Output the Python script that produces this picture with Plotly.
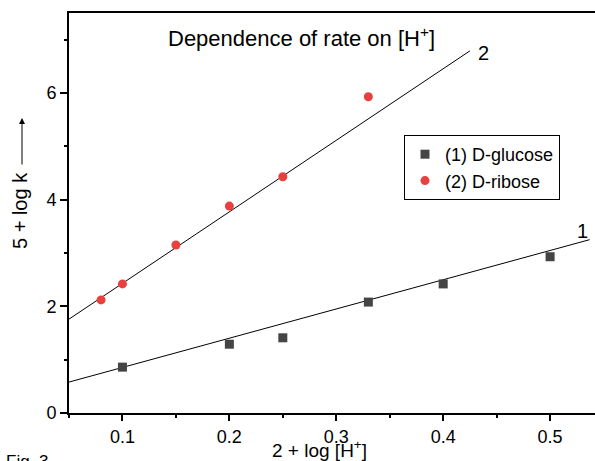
import plotly.graph_objects as go

# Data
glucose_x = [0.10, 0.20, 0.25, 0.33, 0.40, 0.50]
glucose_y = [0.86, 1.29, 1.41, 2.08, 2.42, 2.93]
ribose_x = [0.08, 0.10, 0.15, 0.20, 0.25, 0.33]
ribose_y = [2.12, 2.42, 3.15, 3.88, 4.43, 5.93]

# fitted lines (endpoints)
fit1_x = [0.05, 0.537]
fit1_y = [0.58, 3.25]
fit2_x = [0.05, 0.425]
fit2_y = [1.76, 6.79]

x_ticks = [0.1, 0.2, 0.3, 0.4, 0.5]
y_ticks = [0, 2, 4, 6]

FONT = "Liberation Sans, Arial, Helvetica, sans-serif"

L, T, B = 69, 13, 413
PW, PH = 595 - L, B - T


def px(xp):
    return (xp - L) / PW


def py(yp):
    return (B - yp) / PH


fig = go.Figure()
fig.add_trace(go.Scatter(x=fit1_x, y=fit1_y, mode="lines",
                         line=dict(color="black", width=1), showlegend=False, hoverinfo="skip"))
fig.add_trace(go.Scatter(x=fit2_x, y=fit2_y, mode="lines",
                         line=dict(color="black", width=1), showlegend=False, hoverinfo="skip"))
fig.add_trace(go.Scatter(x=glucose_x, y=glucose_y, mode="markers", name="(1) D-glucose",
                         marker=dict(symbol="square", size=9, color="#444444")))
fig.add_trace(go.Scatter(x=ribose_x, y=ribose_y, mode="markers", name="(2) D-ribose",
                         marker=dict(symbol="circle", size=9, color="#e8403f")))

fig.update_layout(
    width=595, height=461,
    margin=dict(l=L, r=0, t=T, b=461 - B, autoexpand=False),
    paper_bgcolor="white", plot_bgcolor="white",
    font=dict(family=FONT, size=18, color="black"),
    showlegend=True,
    legend=dict(x=px(404), y=py(135), xanchor="left", yanchor="top",
                bordercolor="black", borderwidth=1, bgcolor="white",
                font=dict(size=18), tracegroupgap=0, itemwidth=30,
                entrywidth=172, entrywidthmode="pixels"),
    xaxis=dict(range=[0.05, 0.542], tickvals=x_ticks, ticktext=[str(v) for v in x_ticks],
               showgrid=False, zeroline=False, showline=True, linecolor="black", linewidth=2,
               mirror=True, ticks="outside", ticklen=6, tickwidth=1.5, tickcolor="black",
               tickfont=dict(size=18),
               minor=dict(dtick=0.05, tick0=0.05, ticks="outside", ticklen=3, tickwidth=1.5, tickcolor="black"),
               title=dict(text="")),
    yaxis=dict(range=[0, 7.5], tickvals=y_ticks, showgrid=False, zeroline=False,
               showline=True, linecolor="black", linewidth=2, mirror=False,
               ticks="outside", ticklen=7, tickwidth=1.5, tickcolor="black",
               tickfont=dict(size=18),
               minor=dict(dtick=1, tick0=0, ticks="outside", ticklen=3, tickwidth=1.5, tickcolor="black"),
               title=dict(text="")),
    annotations=[
        dict(text="Dependence of rate on [H<sup>+</sup>]", xref="paper", yref="paper",
             x=px(301), y=py(37), xanchor="center", yanchor="middle",
             showarrow=False, font=dict(size=22)),
        dict(text="1", x=0.53, y=3.42, xref="x", yref="y", xanchor="center", yanchor="middle",
             showarrow=False, font=dict(size=20)),
        dict(text="2", x=0.438, y=6.75, xref="x", yref="y", xanchor="center", yanchor="middle",
             showarrow=False, font=dict(size=20)),
        dict(text="5 + log k", xref="paper", yref="paper", x=px(20), y=py(211),
             xanchor="center", yanchor="middle",
             textangle=-90, showarrow=False, font=dict(size=20)),
        dict(text="", xref="paper", yref="paper", x=px(22), y=py(118),
             ax=0, ay=48, axref="pixel", ayref="pixel", showarrow=True, arrowhead=2,
             arrowsize=1.2, arrowwidth=1, arrowcolor="black"),
        dict(text="2 + log [H<sup>+</sup>]", xref="paper", yref="paper", x=px(319), y=py(449),
             xanchor="center", yanchor="middle", showarrow=False, font=dict(size=19)),
        dict(text="Fig. 3", xref="paper", yref="paper", x=px(4), y=py(450),
             xanchor="left", yanchor="top", showarrow=False, font=dict(size=17)),
    ],
)

fig.write_html("out.html", config={"displayModeBar": False},
               post_script="document.body.style.margin='0';document.body.style.overflow='hidden';")
